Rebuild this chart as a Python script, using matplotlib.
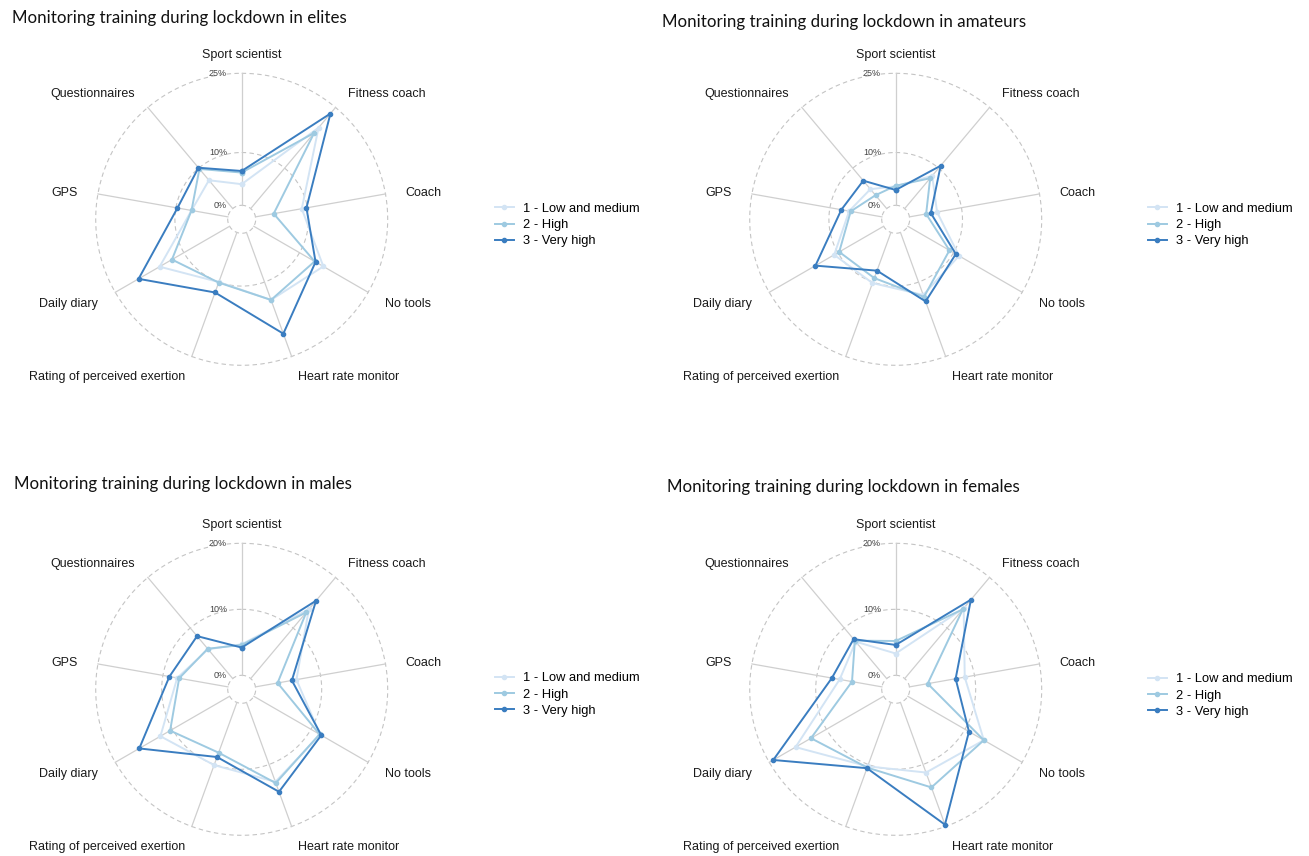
import matplotlib
matplotlib.use("Agg")
import matplotlib.pyplot as plt
import numpy as np
from matplotlib.lines import Line2D

# axes of every radar, clockwise from the top
tools = ["Sport scientist", "Fitness coach", "Coach", "No tools", "Heart rate monitor",
         "Rating of perceived exertion", "Daily diary", "GPS", "Questionnaires"]
levels = ["1 - Low and medium", "2 - High", "3 - Very high"]

# percentages
elites_low = [4.0, 20.0, 8.9, 15.2, 13.6, 10.0, 15.3, 7.0, 7.0]
elites_high = [6.2, 18.7, 3.5, 13.3, 13.6, 10.1, 12.6, 7.0, 9.8]
elites_very = [6.5, 23.5, 9.8, 13.5, 20.4, 12.1, 19.9, 9.7, 10.1]

amateurs_low = [3.6, 8.1, 5.3, 11.2, 12.6, 10.2, 10.8, 6.3, 4.8]
amateurs_high = [3.7, 7.5, 3.2, 9.1, 13.0, 9.2, 9.7, 6.0, 3.3]
amateurs_very = [2.9, 10.6, 4.1, 10.5, 13.9, 7.7, 14.9, 7.8, 6.9]

males_low = [4.7, 13.7, 6.3, 11.6, 12.8, 10.1, 12.1, 7.8, 5.8]
males_high = [4.6, 13.1, 3.4, 11.5, 13.0, 8.1, 10.4, 7.5, 5.9]
males_very = [4.2, 15.4, 5.6, 11.8, 14.4, 8.8, 15.8, 9.0, 8.4]

females_low = [3.3, 13.9, 8.5, 13.3, 11.3, 10.3, 15.4, 6.5, 7.3]
females_high = [5.2, 13.7, 2.8, 13.3, 13.7, 10.5, 12.7, 4.6, 7.5]
females_very = [4.6, 15.6, 7.1, 10.7, 19.7, 10.6, 19.3, 7.7, 7.8]

titles = ["Monitoring training during lockdown in elites",
          "Monitoring training during lockdown in amateurs",
          "Monitoring training during lockdown in males",
          "Monitoring training during lockdown in females"]
grid_max = [25, 25, 20, 20]
grid_mid = 10

colors = ["#D3E4F4", "#9ECAE1", "#3A7DC0"]

W, H = 1309, 856
fig = plt.figure(figsize=(W / 100, H / 100), dpi=100)
fig.patch.set_facecolor("white")

R = 146.0    # outer circle radius, px
r0 = 14.0    # hole radius, px
centers = [(241.7, 219.3), (895.7, 219.3), (241.7, 689.3), (895.7, 689.3)]
title_pos = [(12, 18), (662, 22), (14, 484), (667, 487)]
legend_pos = [(495, 225), (1148, 225), (495, 694.5), (1148, 695.5)]

panels = [(elites_low, elites_high, elites_very),
          (amateurs_low, amateurs_high, amateurs_very),
          (males_low, males_high, males_very),
          (females_low, females_high, females_very)]

angles = np.arange(len(tools)) * 2 * np.pi / len(tools)
ring = np.linspace(0, 2 * np.pi, 361)
lab_font = ["Liberation Sans", "DejaVu Sans"]

for i, series in enumerate(panels):
    cx, cy = centers[i]
    vmax = grid_max[i]
    off = r0 * vmax / (R - r0)
    ax = fig.add_axes([(cx - R) / W, (H - cy - R) / H, 2 * R / W, 2 * R / H],
                      projection="polar")
    ax.set_theta_zero_location("N")
    ax.set_theta_direction(-1)
    ax.set_ylim(0, vmax)
    ax.set_rorigin(-off)
    ax.axis("off")

    # grid circles and spokes
    for v in [0, grid_mid, vmax]:
        ax.plot(ring, np.full(ring.shape, v), ls=(0, (4, 3)), color="#c4c4c4",
                lw=0.8, clip_on=False, zorder=1)
    for a in angles:
        ax.plot([a, a], [0, vmax], color="#cfcfcf", lw=0.9, clip_on=False, zorder=1)
    for v in [0, grid_mid, vmax]:
        ax.annotate(f"{v}%", xy=(0, v), xytext=(-10.5, 0), textcoords="offset points",
                    ha="right", va="center", fontsize=6.5, color="#444444",
                    family=lab_font, annotation_clip=False)

    # the three groups
    for vals, c in zip(series, colors):
        ax.plot(np.append(angles, angles[0]), np.append(vals, vals[0]), color=c,
                lw=1.4, marker="o", ms=3, clip_on=False, zorder=3)

    # axis labels
    r_lab = 166.0 / R * (vmax + off) - off
    for a, name in zip(angles, tools):
        deg = np.degrees(a)
        ha = "center" if deg < 1 else ("left" if deg < 180 else "right")
        ax.annotate(name, xy=(a, r_lab), xytext=(0, -1.5), textcoords="offset points",
                    ha=ha, va="center", fontsize=9, color="#1a1a1a",
                    family=lab_font, annotation_clip=False)

    # legend
    handles = [Line2D([], [], color=c, lw=1.4, marker="o", ms=3) for c in colors]
    lx, ly = legend_pos[i]
    fig.legend(handles, levels, loc="center left", bbox_to_anchor=(lx / W, 1 - ly / H),
               frameon=False, borderpad=0, borderaxespad=0, handlelength=1.45,
               handletextpad=0.75, labelspacing=0.31,
               prop={"family": lab_font, "size": 9.3})

    tx, ty = title_pos[i]
    fig.text(tx / W, 1 - ty / H, titles[i], ha="left", va="center", fontsize=12.2,
             family=["Lato", "DejaVu Sans"], color="#111111")

fig.savefig("out.png", dpi=100)
